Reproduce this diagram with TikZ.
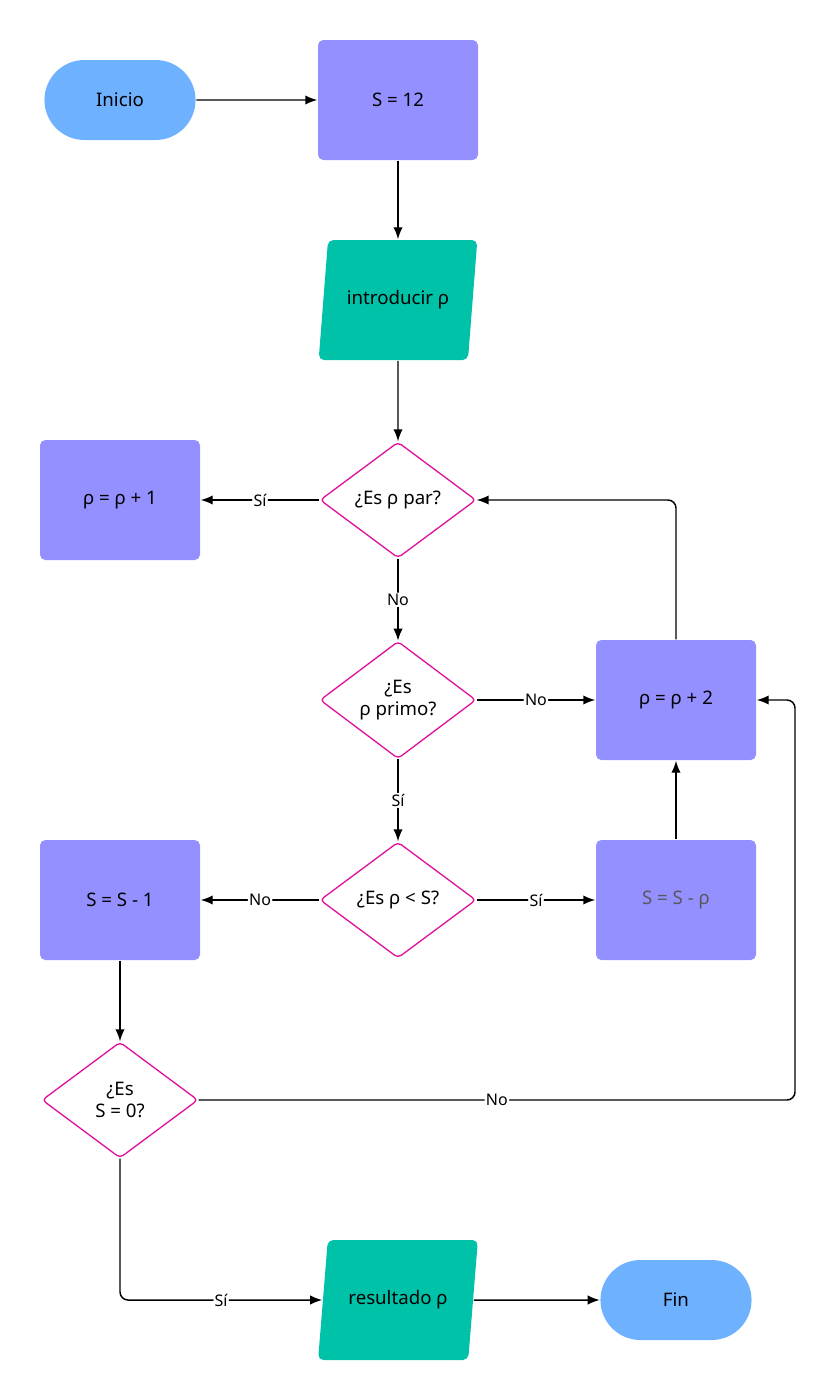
\documentclass[tikz,border=0pt]{standalone}
\usepackage{fontspec}
\setmainfont{Noto Sans}
\usetikzlibrary{shapes.geometric,arrows.meta}
\definecolor{cBlue}{HTML}{6DB1FF}
\definecolor{cViolet}{HTML}{9490FF}
\definecolor{cGreen}{HTML}{00C2A8}
\definecolor{cPink}{HTML}{E0139F}
\tikzset{every picture/.style={line width=1.1pt}}
\tikzset{
  term/.style={rounded rectangle, fill=cBlue, minimum width=120pt, minimum height=60pt, font=\fontsize{14}{17}\selectfont},
  proc/.style={rectangle, rounded corners=4pt, fill=cViolet, minimum width=120pt, minimum height=90pt, font=\fontsize{14}{17}\selectfont},
  io/.style={trapezium, trapezium left angle=76, trapezium right angle=104, trapezium stretches=true, rounded corners=4pt, fill=cGreen, minimum width=120pt, minimum height=90pt, inner xsep=0pt, font=\fontsize{14}{17}\selectfont},
  dec/.style={diamond, draw=cPink, line width=1pt, rounded corners=3pt, fill=white, minimum width=117pt, minimum height=87pt, inner sep=0pt, align=center, font=\fontsize{14}{17}\selectfont},
  lbl/.style={fill=white, inner sep=1pt, font=\bfseries\fontsize{12}{14}\selectfont},
  flow/.style={-{Latex[length=9pt,width=7pt]}, rounded corners=6pt},
}
\usetikzlibrary{shapes.misc}
\begin{document}
\begin{tikzpicture}[x=0.75pt,y=0.75pt,yscale=-1]
\useasboundingbox (0,0) rectangle (837,1400);
%nodes
\node[term] (ini) at (120,100) {Inicio};
\node[proc] (s12) at (398,100) {S = 12};
\node[io] (inp) at (398,300) {introducir ρ};
\node[dec] (par) at (398,500) {¿Es ρ par?};
\node[proc] (ma1) at (120,500) {ρ = ρ + 1};
\node[dec] (pri) at (398,700) {¿Es\\ρ primo?};
\node[proc] (ma2) at (676,700) {ρ = ρ + 2};
\node[dec] (men) at (398,900) {¿Es ρ < S?};
\node[proc] (sm1) at (120,900) {S = S - 1};
\node[proc, text=black!65] (smr) at (676,900) {S = S - ρ};
\node[dec] (cero) at (120,1100) {¿Es\\S = 0?};
\node[io] (res) at (398,1300) {resultado ρ};
\node[term] (fin) at (676,1300) {Fin};
%connectors
\draw[flow] (ini) -- (s12);
\draw[flow] (s12) -- (inp);
\draw[flow] (inp) -- (par);
\draw[flow] (par) -- node[lbl, pos=0.5] {Sí} (ma1);
\draw[flow] (par) -- node[lbl] {No} (pri);
\draw[flow] (pri) -- node[lbl] {No} (ma2);
\draw[flow] (pri) -- node[lbl] {Sí} (men);
\draw[flow] (men) -- node[lbl] {No} (sm1);
\draw[flow] (men) -- node[lbl] {Sí} (smr);
\draw[flow] (smr) -- (ma2);
\draw[flow] (ma2.north) |- (par.east);
\draw[flow] (sm1) -- (cero);
\draw[flow] (cero.east) -- node[lbl] {No} (795,1100) |- (ma2.east);
\draw[flow] (cero.south) |- node[lbl, pos=0.75] {Sí} (res);
\draw[flow] (res) -- (fin);
\end{tikzpicture}
\end{document}
